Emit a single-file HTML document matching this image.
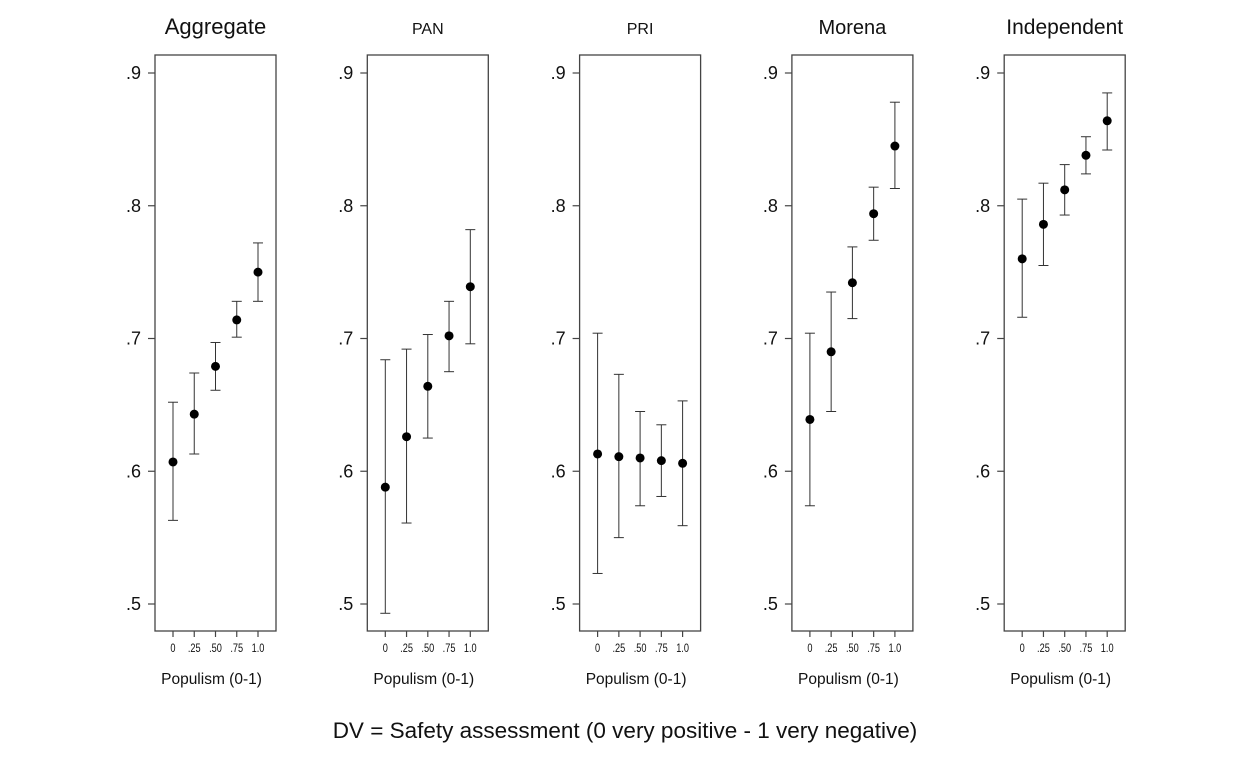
<!DOCTYPE html>
<html><head><meta charset="utf-8"><style>
html,body{margin:0;padding:0;background:#fff;}
svg{display:block;font-family:"Liberation Sans",sans-serif;}
</style></head><body>
<svg id="chart" width="1241" height="759"></svg>
<script>
const panelTitles=["Aggregate","PAN","PRI","Morena","Independent"];
const titleSizes=[22,16,16,20,21];
const xCats=[0,0.25,0.5,0.75,1.0];
const xTickLabels=["0",".25",".50",".75","1.0"];
const yTicks=[0.5,0.6,0.7,0.8,0.9];
const yTickLabels=[".5",".6",".7",".8",".9"];
const estAggregate=[0.607,0.643,0.679,0.714,0.750];
const loAggregate=[0.563,0.613,0.661,0.701,0.728];
const hiAggregate=[0.652,0.674,0.697,0.728,0.772];
const estPAN=[0.588,0.626,0.664,0.702,0.739];
const loPAN=[0.493,0.561,0.625,0.675,0.696];
const hiPAN=[0.684,0.692,0.703,0.728,0.782];
const estPRI=[0.613,0.611,0.610,0.608,0.606];
const loPRI=[0.523,0.550,0.574,0.581,0.559];
const hiPRI=[0.704,0.673,0.645,0.635,0.653];
const estMorena=[0.639,0.690,0.742,0.794,0.845];
const loMorena=[0.574,0.645,0.715,0.774,0.813];
const hiMorena=[0.704,0.735,0.769,0.814,0.878];
const estIndep=[0.760,0.786,0.812,0.838,0.864];
const loIndep=[0.716,0.755,0.793,0.824,0.842];
const hiIndep=[0.805,0.817,0.831,0.852,0.885];
const ests=[estAggregate,estPAN,estPRI,estMorena,estIndep];
const los=[loAggregate,loPAN,loPRI,loMorena,loIndep];
const his=[hiAggregate,hiPAN,hiPRI,hiMorena,hiIndep];

const NS="http://www.w3.org/2000/svg";
const svg=document.getElementById('chart');
function mk(tag,attrs,parent,text){const e=document.createElementNS(NS,tag);for(const k in attrs)e.setAttribute(k,attrs[k]);if(text!==undefined)e.textContent=text;(parent||svg).appendChild(e);return e;}
const yScale=v=>604-(v-0.5)*1327.5;
const panelStep=212.3;
for(let p=0;p<5;p++){
  const x0=173+p*panelStep;
  const xScale=v=>x0+v*85;
  const g=mk('g',{});
  
  
  const bl=x0-18, br=x0+103;
  const box=mk('rect',{x:bl,y:55,width:br-bl,height:576,fill:'none',stroke:'#444','stroke-width':1.3},g);
  
  
  const t=mk('text',{x:(bl+br)/2,y:34,'text-anchor':'middle','font-size':titleSizes[p],fill:'#111'},g,panelTitles[p]);
  
  
  for(let i=0;i<yTicks.length;i++){
    const y=yScale(yTicks[i]);
    mk('line',{x1:bl-7,x2:bl,y1:y,y2:y,stroke:'#444','stroke-width':1.2},g);
    const l=mk('text',{x:bl-14,y:y+6,'text-anchor':'end','font-size':18,fill:'#111'},g,yTickLabels[i]);
    
    
  }
  for(let i=0;i<xCats.length;i++){
    const x=xScale(xCats[i]);
    mk('line',{x1:x,x2:x,y1:631,y2:637,stroke:'#444','stroke-width':1.2},g);
    const l=mk('text',{x:x,y:652,'text-anchor':'middle','font-size':11.5,fill:'#111',transform:`translate(${x},0) scale(0.8,1) translate(${-x},0)`},g,xTickLabels[i]);
    
    
    const xl=mk('g',{},g);
    
    
    const yl=yScale(los[p][i]), yh=yScale(his[p][i]);
    mk('line',{x1:x,x2:x,y1:yl,y2:yh,stroke:'#333','stroke-width':1},xl);
    mk('line',{x1:x-5,x2:x+5,y1:yl,y2:yl,stroke:'#333','stroke-width':1},xl);
    mk('line',{x1:x-5,x2:x+5,y1:yh,y2:yh,stroke:'#333','stroke-width':1},xl);
    const c=mk('circle',{cx:x,cy:yScale(ests[p][i]),r:4.5,fill:'#000'},g);
    
    
  }
  const xt=mk('text',{x:(bl+br)/2-4,y:684,'text-anchor':'middle','font-size':15.5,fill:'#111'},g,'Populism (0-1)');
  
  
}
const foot=mk('text',{x:625,y:738,'text-anchor':'middle','font-size':22.5,fill:'#111'},svg,'DV = Safety assessment (0 very positive - 1 very negative)');


</script>
</body></html>
